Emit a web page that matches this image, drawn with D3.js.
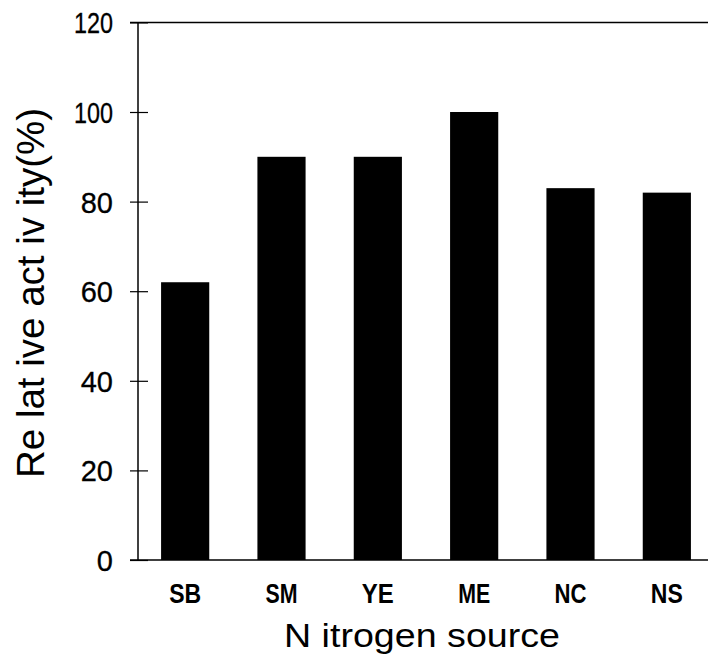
<!DOCTYPE html>
<html>
<head>
<meta charset="utf-8">
<script src="https://cdn.jsdelivr.net/npm/d3@7"></script>
<style>
  html, body { margin: 0; padding: 0; background: #fff; }
  svg { display: block; }
  text { font-family: "Liberation Sans", Arial, sans-serif; fill: #000; }
</style>
</head>
<body>
<svg id="chart" width="708" height="666"></svg>
<script>
// Relative activity by nitrogen source
const categories = ["SB", "SM", "YE", "ME", "NC", "NS"];
const activity = [62, 90, 90, 100, 83, 82];
const yTicks = [0, 20, 40, 60, 80, 100, 120];

const svg = d3.select("#chart");
const W = 708, H = 666;
const plotLeft = 138, plotTop = 22.4, plotBottom = 560;

const x = d3.scaleBand()
  .domain(categories)
  .range([137, 715])
  .paddingInner(0.5)
  .paddingOuter(0.25);

const y = d3.scaleLinear()
  .domain([0, 120])
  .range([plotBottom, plotTop]);

// bars
svg.append("g")
  .selectAll("rect")
  .data(categories)
  .join("rect")
  .attr("x", d => x(d))
  .attr("width", x.bandwidth())
  .attr("y", (d, i) => y(activity[i]))
  .attr("height", (d, i) => y(0) - y(activity[i]))
  .attr("fill", "#000");

// frame lines: top and bottom
svg.append("line")
  .attr("x1", 130).attr("x2", W)
  .attr("y1", y(120)).attr("y2", y(120))
  .attr("stroke", "#000").attr("stroke-width", 1.5);
svg.append("line")
  .attr("x1", 130).attr("x2", W)
  .attr("y1", y(0)).attr("y2", y(0))
  .attr("stroke", "#000").attr("stroke-width", 1.5);

// y axis
const yAxis = d3.axisLeft(y)
  .tickValues(yTicks)
  .tickSize(8)
  .tickPadding(17)
  .tickFormat(d3.format("d"));

const gy = svg.append("g")
  .attr("transform", `translate(${plotLeft},0)`)
  .call(yAxis);
gy.select(".domain").attr("stroke-width", 1.5).attr("d", `M0,${y(120)}V${y(0)}`);
gy.selectAll(".tick line")
  .attr("x1", -8).attr("x2", 10)
  .attr("stroke-width", 1.2);
gy.selectAll(".tick text")
  .style("font-size", "29px")
  .attr("stroke", "#000")
  .attr("stroke-width", 0.3)
  .attr("dy", "0.36em")
  .each(function(d) {
    const s = String(d);
    // narrow "1" glyph: squeeze labels that contain it
    if (s.includes("1")) {
      const len = [...s].reduce((a, c) => a + (c === "1" ? 7 : 16), 0);
      d3.select(this)
        .attr("textLength", len)
        .attr("lengthAdjust", "spacingAndGlyphs");
    }
  });

// x axis category labels
svg.append("g")
  .selectAll("text")
  .data(categories)
  .join("text")
  .attr("x", d => x(d) + x.bandwidth() / 2)
  .attr("y", 603)
  .attr("text-anchor", "middle")
  .style("font-size", "27px")
  .attr("font-weight", "bold")
  .attr("textLength", 32)
  .attr("lengthAdjust", "spacingAndGlyphs")
  .text(d => d);

// axis titles
svg.append("text")
  .attr("x", 422)
  .attr("y", 647)
  .attr("text-anchor", "middle")
  .style("font-size", "33px")
  .attr("textLength", 276)
  .attr("lengthAdjust", "spacingAndGlyphs")
  .style("white-space", "pre")
  .text("N itrogen source");

svg.append("text")
  .attr("transform", "translate(44,293) rotate(-90)")
  .attr("text-anchor", "middle")
  .style("font-size", "38px")
  .attr("textLength", 370)
  .attr("lengthAdjust", "spacingAndGlyphs")
  .style("white-space", "pre")
  .text("Re lat ive act iv ity(%)");
</script>
</body>
</html>
